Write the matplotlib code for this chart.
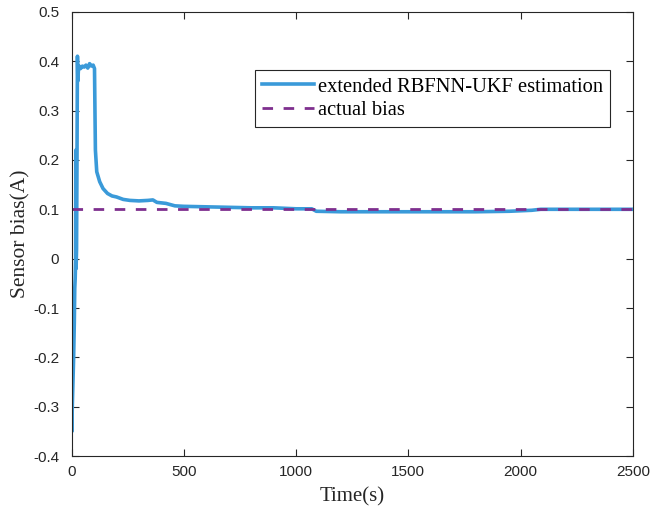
import matplotlib
matplotlib.use("Agg")
import matplotlib.pyplot as plt

# estimation curve
time_s = [0, 1, 3, 6, 9, 12, 14, 16, 18, 19, 20, 22, 24, 26, 28, 30, 34, 40, 48, 56, 64,
          72, 80, 88, 96, 102, 104, 106, 112, 125, 140, 160, 180, 200, 230, 260, 300,
          340, 362, 380, 420, 460, 500, 600, 700, 800, 900, 1000, 1070, 1090, 1200,
          1500, 1800, 1950, 2000, 2050, 2090, 2200, 2500]
estimate = [-0.12, -0.35, -0.30, -0.25, -0.20, -0.13, -0.06, -0.04, 0.00, 0.22, -0.02,
            0.02, 0.20, 0.41, 0.36, 0.38, 0.39, 0.385, 0.39, 0.388, 0.392, 0.386, 0.395,
            0.39, 0.392, 0.385, 0.30, 0.22, 0.176, 0.156, 0.142, 0.132, 0.127, 0.125,
            0.120, 0.118, 0.117, 0.118, 0.119, 0.114, 0.112, 0.107, 0.106, 0.105, 0.104,
            0.103, 0.103, 0.101, 0.101, 0.096, 0.095, 0.095, 0.095, 0.096, 0.097, 0.098,
            0.100, 0.100, 0.100]

actual_t = [0, 2500]
actual_bias = [0.1, 0.1]

x_ticks = [0, 500, 1000, 1500, 2000, 2500]
y_ticks = [-0.4, -0.3, -0.2, -0.1, 0, 0.1, 0.2, 0.3, 0.4, 0.5]
y_tick_labels = ["-0.4", "-0.3", "-0.2", "-0.1", "0", "0.1", "0.2", "0.3", "0.4", "0.5"]

fig = plt.figure(figsize=(6.51, 5.12), dpi=100)
ax = fig.add_axes([0.110, 0.109, 0.862, 0.868])

ax.plot(time_s, estimate, color="#3A9AD9", lw=2.6, label="extended RBFNN-UKF estimation")
ax.plot(actual_t, actual_bias, color="#7E2F8E", lw=2.0, dashes=(3.8, 3.8),
        label="actual bias")

ax.set_xlim(0, 2500)
ax.set_ylim(-0.4, 0.5)
ax.set_xticks(x_ticks)
ax.set_yticks(y_ticks)
ax.set_yticklabels(y_tick_labels)
ax.tick_params(direction="in", length=5, width=0.8, labelsize=11, colors="#262626",
               top=True, right=True)
ax.tick_params(axis="y", pad=9)
ax.tick_params(axis="x", pad=6)
for lab in ax.get_xticklabels() + ax.get_yticklabels():
    lab.set_fontfamily("Liberation Sans")
for sp in ax.spines.values():
    sp.set_linewidth(0.8)
    sp.set_color("#262626")

ax.set_xlabel("Time(s)", fontfamily="Liberation Serif", fontsize=15, color="#262626",
              labelpad=6)
ax.set_ylabel("Sensor bias(A)", fontfamily="Liberation Serif", fontsize=15.5,
              color="#262626", labelpad=2)

leg = ax.legend(loc="upper right", bbox_to_anchor=(0.9596, 0.869),
                prop={"family": "Liberation Serif", "size": 14.8},
                frameon=True, fancybox=False, edgecolor="#262626", framealpha=1,
                borderpad=0.35, labelspacing=0.2, handlelength=2.5, handletextpad=0.2,
                borderaxespad=0)
leg.get_frame().set_linewidth(0.8)

fig.savefig("out.png", dpi=100)
